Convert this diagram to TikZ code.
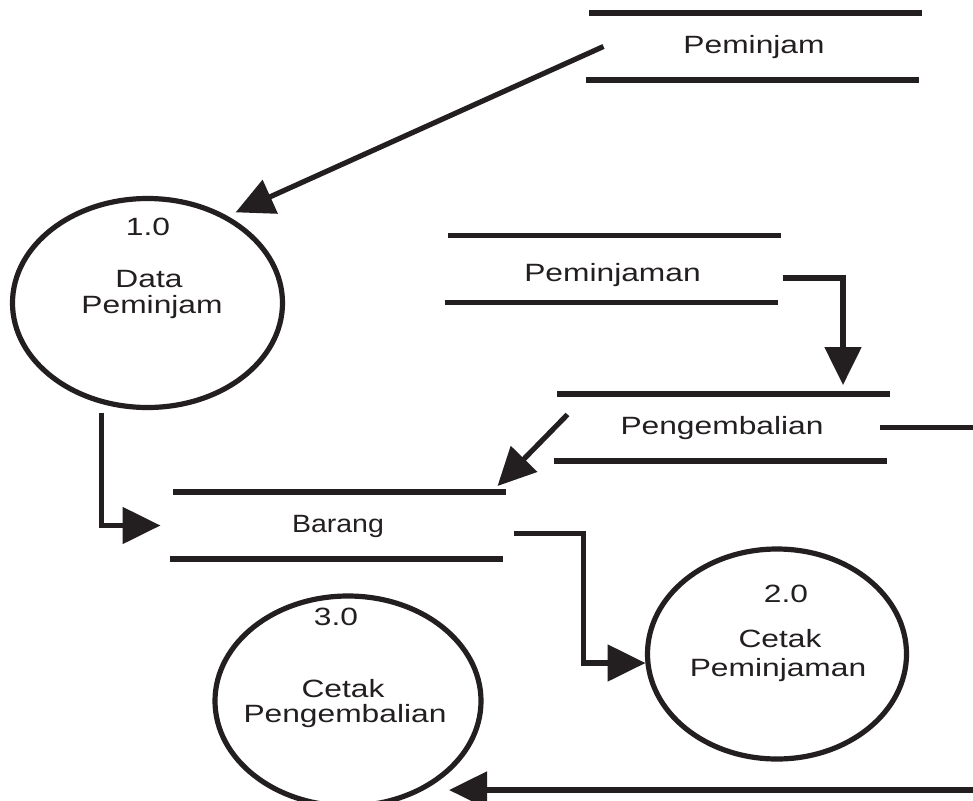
\documentclass[tikz,border=0pt]{standalone}
\usepackage{fontspec}
\setmainfont{Liberation Sans}[FakeStretch=1.27]
\newfontfamily\narrowfont{Liberation Sans}[FakeStretch=1.14]
\usepackage{tikz}
\usetikzlibrary{arrows.meta, positioning, shapes.geometric, calc}
\definecolor{ink}{RGB}{35,31,32}

\begin{document}
\begin{tikzpicture}[x=1pt, y=-1pt,
    wire/.style={line width=5.2pt, draw=ink},
    flow/.style={wire, -{Triangle[length=38pt, width=36pt]}},
    store/.style={minimum width=333pt, minimum height=67pt, inner sep=0pt, outer sep=0pt,
      text=ink, text height=18pt, text depth=5pt, font=\fontsize{25}{26}\selectfont},
    process/.style={ellipse, draw=ink, line width=5.2pt, inner sep=0pt, outer sep=0pt},
    txt/.style={anchor=base, text=ink, inner sep=0pt, font=\fontsize{25}{26}\selectfont}]
      \useasboundingbox (0,0) rectangle (973,800);
      \clip (0,0) rectangle (973,800);
      \fill[white] (0,0) rectangle (973,800);

      % Data stores
      \node[store] (pmj) at (754,46.5) {Peminjam};
      \node[store] (pmjn) at (612.5,269) {\raisebox{-6pt}{Peminjaman}};
      \node[store] (pgb) at (722,427.5) {Pengembalian};
      \node[store, font=\narrowfont\fontsize{25}{26}\selectfont] (brg) at (338,525.5) {Barang};
      \foreach \s in {pmj,pmjn,pgb,brg}
        \draw[wire] ([xshift=1.5pt]\s.north west) -- ([xshift=1.5pt]\s.north east)
                    ([xshift=-1.5pt]\s.south west) -- ([xshift=-1.5pt]\s.south east);

      % Processes
      \node[process, minimum width=270pt, minimum height=209pt] (p1) at (147.5,303) {};
      \node[process, minimum width=259pt, minimum height=210pt] (p2) at (777,654) {};
      \node[process, minimum width=266pt, minimum height=210pt] (p3) at (348,701) {};

      \node[txt] (p1num) at (148,235) {1.0};
      \node[txt] (p1a) at (149,287) {Data};
      \node[txt] (p1b) at (152,313) {Peminjam};
      \node[txt] (p2num) at (786,602) {2.0};
      \node[txt] (p2a) at (780,647) {Cetak};
      \node[txt] (p2b) at (778,676) {Peminjaman};
      \node[txt] (p3num) at (336,625) {3.0};
      \node[txt] (p3a) at (343,697) {Cetak};
      \node[txt] (p3b) at (345,722) {Pengembalian};

      % Flows
      \draw[flow, shorten >=12pt] ([xshift=16pt]pmj.west) -- (p1.48);
      \draw[flow] ([shift={(4,9)}]pmjn.east) -| ([shift={(121,-9)}]pgb.north);
      \draw[wire] ([xshift=-9pt]pgb.east) -- ++(100,0);
      \draw[flow] ([shift={(12,-13)}]pgb.west) -- ([shift={(-7,-6)}]brg.north east);
      \draw[flow] ([shift={(-46,5)}]p1.south) |- ([xshift=-11pt]brg.west);
      \draw[flow] ([shift={(9,8)}]brg.east) -- ++(70,0) |- ([shift={(-2,9)}]p2.west);

      \coordinate (offR) at (990,790);
      \draw[flow] (offR) -- ($(offR -| p3.east)+(-32,0)$);
    \end{tikzpicture}
\end{document}
